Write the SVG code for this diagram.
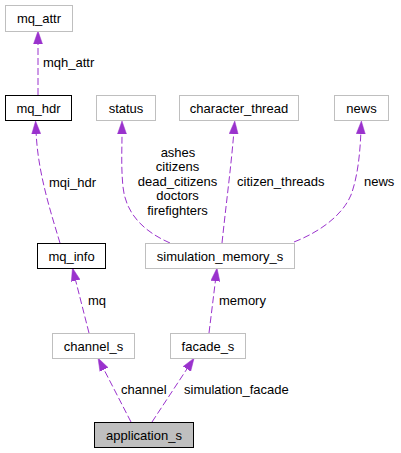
<svg xmlns="http://www.w3.org/2000/svg" width="401" height="453" viewBox="0 0 401 453">
<style>
text{font-family:"Liberation Sans",Arial,sans-serif;font-size:13px;fill:#000}
.n rect{fill:#fff;stroke:#bfbfbf;stroke-width:1}
.n.b rect{stroke:#000}
.n.a rect{fill:#bfbfbf;stroke:#000}
.n text{text-anchor:middle}
.e path{fill:none;stroke:#9a32cd;stroke-width:1;stroke-dasharray:7,3;marker-end:url(#arr)}
.m{text-anchor:middle}
</style>
<defs>
<marker id="arr" markerUnits="userSpaceOnUse" markerWidth="13" markerHeight="10" viewBox="0 0 13 10" refX="0" refY="5" orient="auto">
<path d="M0,0.5 L13,5 L0,9.5 Z" fill="#9a32cd" stroke="#9a32cd" stroke-width="0.5"/>
</marker>
</defs>
<rect width="401" height="453" fill="#fff"/>
<g id="connectors" class="e">
<path d="M38,95 L38,44"/>
<path d="M60,243 C50,210 38,172 36.2,134"/>
<path d="M170,243 C145,232 126,215 123,187 C121,167 122,150 122,134"/>
<path d="M222,243 C226,205 231,167 233.7,134"/>
<path d="M294,242 C322,231 343,214 351,195 C358,176 360,152 360.8,134"/>
<path d="M89,333 L75.7,280.7"/>
<path d="M209,333 L215.4,281"/>
<path d="M131,422 L104,369.6"/>
<path d="M152,422 L186.9,369"/>
</g>
<g id="labels">
<text x="43" y="66.5">mqh_attr</text>
<text x="49" y="186.5">mqi_hdr</text>
<text class="m" x="178" y="156.5">ashes</text>
<text class="m" x="177.5" y="171">citizens</text>
<text class="m" x="177.5" y="185.5">dead_citizens</text>
<text class="m" x="177.5" y="200">doctors</text>
<text class="m" x="177.5" y="214.5">firefighters</text>
<text x="237" y="186">citizen_threads</text>
<text x="364" y="186">news</text>
<text x="88" y="305">mq</text>
<text x="219" y="305">memory</text>
<text x="121" y="394">channel</text>
<text x="184" y="394">simulation_facade</text>
</g>
<g id="mq_attr" class="n"><rect x="5.5" y="5.5" width="67" height="26"/><text x="39" y="23">mq_attr</text></g>
<g id="mq_hdr" class="n b"><rect x="5.5" y="95.5" width="66" height="25"/><text x="38.5" y="112.5">mq_hdr</text></g>
<g id="status" class="n"><rect x="96.5" y="95.5" width="59" height="25"/><text x="126" y="112.5">status</text></g>
<g id="character_thread" class="n"><rect x="179.5" y="95.5" width="119" height="25"/><text x="239" y="112.5">character_thread</text></g>
<g id="news" class="n"><rect x="334.5" y="95.5" width="54" height="25"/><text x="361.5" y="112.5">news</text></g>
<g id="mq_info" class="n b"><rect x="37.5" y="243.5" width="68" height="25"/><text x="71.5" y="260.5">mq_info</text></g>
<g id="simulation_memory_s" class="n"><rect x="145.5" y="243.5" width="149" height="25"/><text x="220" y="260.5">simulation_memory_s</text></g>
<g id="channel_s" class="n"><rect x="52.5" y="333.5" width="82" height="25"/><text x="93.5" y="350.5">channel_s</text></g>
<g id="facade_s" class="n"><rect x="170.5" y="333.5" width="75" height="25"/><text x="208" y="350.5">facade_s</text></g>
<g id="application_s" class="n a"><rect x="94.5" y="422.5" width="99" height="25"/><text x="144" y="439.5">application_s</text></g>
</svg>
